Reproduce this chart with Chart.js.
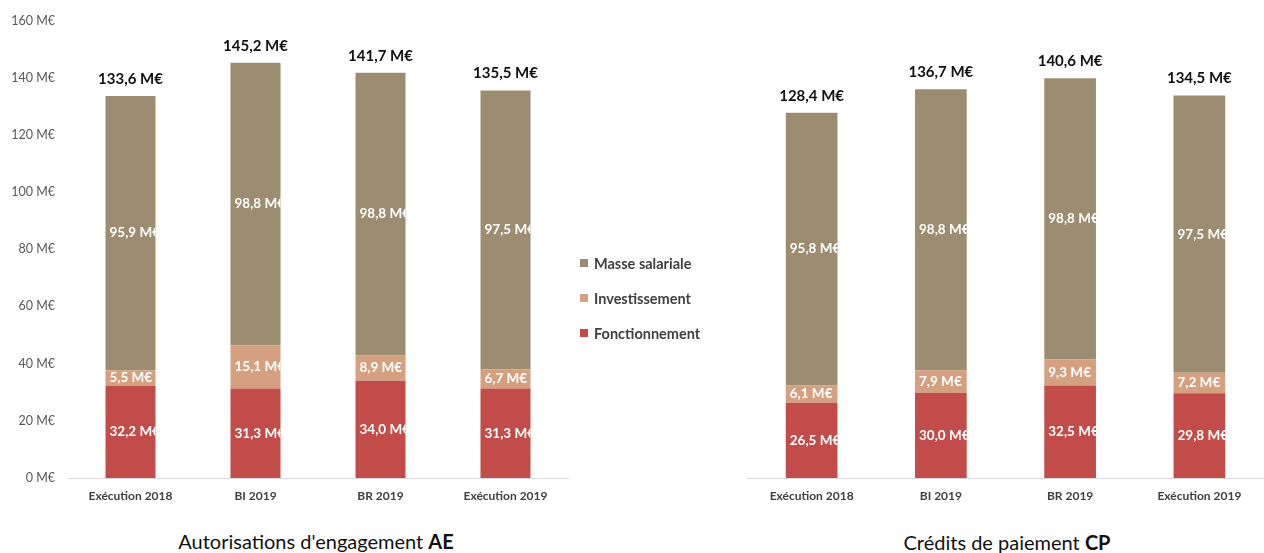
<!DOCTYPE html>
<html lang="fr">
<head>
<meta charset="utf-8">
<title>Budget 2018-2019 : AE et CP</title>
<script src="https://cdn.jsdelivr.net/npm/chart.js@4.4.1/dist/chart.umd.min.js"></script>
<style>
  html, body { margin: 0; padding: 0; background: #ffffff; }
  body { width: 1264px; height: 553px; position: relative; overflow: hidden; font-family: Lato, "Open Sans", sans-serif; }
  .wrap { position: absolute; top: 0; }
  #wrapAE { left: 0; width: 590px; height: 510px; }
  #wrapCP { left: 740px; width: 524px; height: 510px; }
  .title { position: absolute; font-size: 20px; color: #111; white-space: nowrap; transform: translateX(-50%); }
  .title b { font-weight: 700; }
  #titleAE { left: 316px; top: 529px; }
  #titleCP { left: 1007px; top: 530px; }
  #legend { position: absolute; left: 580px; top: 254px; }
  .item { display: flex; align-items: center; font-size: 14.5px; font-weight: 700; color: #404040; height: 18px; margin-bottom: 17px; }
  .sw { width: 8px; height: 8px; margin-right: 6px; }
</style>
</head>
<body>
<div class="wrap" id="wrapAE"><canvas id="chartAE"></canvas></div>
<div class="wrap" id="wrapCP"><canvas id="chartCP"></canvas></div>
<div id="legend"></div>
<div class="title" id="titleAE">Autorisations d'engagement <b>AE</b></div>
<div class="title" id="titleCP">Crédits de paiement <b>CP</b></div>

<script>
// Catégories budgétaires
const categories = ['Exécution 2018', 'BI 2019', 'BR 2019', 'Exécution 2019'];

// Autorisations d'engagement (M€)
const aeFonctionnement = [32.2, 31.3, 34.0, 31.3];
const aeInvestissement = [5.5, 15.1, 8.9, 6.7];
const aeMasseSalariale = [95.9, 98.8, 98.8, 97.5];

// Crédits de paiement (M€)
const cpFonctionnement = [26.5, 30.0, 32.5, 29.8];
const cpInvestissement = [6.1, 7.9, 9.3, 7.2];
const cpMasseSalariale = [95.8, 98.8, 98.8, 97.5];

// Graduations de l'axe des valeurs
const yTicks = [0, 20, 40, 60, 80, 100, 120, 140, 160];

const seriesNames = ['Fonctionnement', 'Investissement', 'Masse salariale'];
const seriesColors = ['#c24c49', '#d5a07f', '#9c8c70'];

const FONT = 'Lato, "Open Sans", sans-serif';
const fmt = v => v.toFixed(1).replace('.', ',') + ' M€';

// Étiquettes : valeur de chaque segment (rognée au bord de la barre) et total au-dessus
const labelPlugin = {
  id: 'barLabels',
  afterDatasetsDraw(chart) {
    const ctx = chart.ctx;
    const n = chart.data.labels.length;
    const totals = new Array(n).fill(0);
    const tops = new Array(n).fill(Infinity);
    chart.data.datasets.forEach((ds, di) => {
      const meta = chart.getDatasetMeta(di);
      meta.data.forEach((bar, i) => {
        const v = ds.data[i];
        totals[i] += v;
        const p = bar.getProps(['x', 'y', 'base', 'width'], true);
        tops[i] = Math.min(tops[i], p.y);
        const left = p.x - p.width / 2;
        ctx.save();
        ctx.beginPath();
        ctx.rect(left, p.y, p.width, p.base - p.y);
        ctx.clip();
        ctx.font = 'bold 13.5px ' + FONT;
        ctx.fillStyle = '#ffffff';
        ctx.textAlign = 'left';
        ctx.textBaseline = 'middle';
        ctx.fillText(fmt(v), left + 4, (p.y + p.base) / 2);
        ctx.restore();
      });
    });
    ctx.save();
    ctx.font = 'bold 15px ' + FONT;
    ctx.fillStyle = '#111111';
    ctx.textAlign = 'center';
    ctx.textBaseline = 'middle';
    const meta0 = chart.getDatasetMeta(0);
    meta0.data.forEach((bar, i) => {
      ctx.fillText(fmt(totals[i]), bar.x, tops[i] - 17);
    });
    ctx.restore();
  }
};

function makeChart(id, fonct, inv, masse, opts) {
  const data = [fonct, inv, masse];
  return new Chart(document.getElementById(id), {
    type: 'bar',
    data: {
      labels: categories,
      datasets: data.map((d, k) => ({
        label: seriesNames[k],
        data: d,
        backgroundColor: seriesColors[k],
        borderWidth: 0,
        categoryPercentage: 1,
        barPercentage: 0.4
      }))
    },
    options: {
      responsive: true,
      maintainAspectRatio: false,
      animation: false,
      layout: { padding: opts.padding },
      plugins: { legend: { display: false }, tooltip: { enabled: false } },
      scales: {
        x: {
          stacked: true,
          grid: { display: false, drawTicks: false },
          border: { display: true, color: '#d9d9d9', width: 1 },
          ticks: { color: '#404040', font: { family: FONT, size: 12, weight: 'bold' }, padding: 11, maxRotation: 0 },
          afterFit: s => { s.height = 32; }
        },
        y: {
          stacked: true,
          display: opts.showY,
          min: 0,
          max: 160,
          afterBuildTicks: s => { s.ticks = yTicks.map(v => ({ value: v })); },
          grid: { display: false, drawTicks: false },
          border: { display: false },
          ticks: { color: '#595959', font: { family: FONT, size: 12.5 }, padding: 13, callback: v => v + ' M€' },
          afterFit: s => { s.width = opts.showY ? 68 : 0; }
        }
      }
    },
    plugins: [labelPlugin]
  });
}

makeChart('chartAE', aeFonctionnement, aeInvestissement, aeMasseSalariale,
  { padding: { top: 18, right: 22, left: 0, bottom: 0 }, showY: true });
makeChart('chartCP', cpFonctionnement, cpInvestissement, cpMasseSalariale,
  { padding: { top: 23, right: 0, left: 7, bottom: 0 }, showY: false });

// Légende commune, du haut vers le bas
const legend = document.getElementById('legend');
[2, 1, 0].forEach(k => {
  const it = document.createElement('div');
  it.className = 'item';
  const sw = document.createElement('span');
  sw.className = 'sw';
  sw.style.background = seriesColors[k];
  const tx = document.createElement('span');
  tx.textContent = seriesNames[k];
  it.appendChild(sw);
  it.appendChild(tx);
  legend.appendChild(it);
});
</script>
</body>
</html>
